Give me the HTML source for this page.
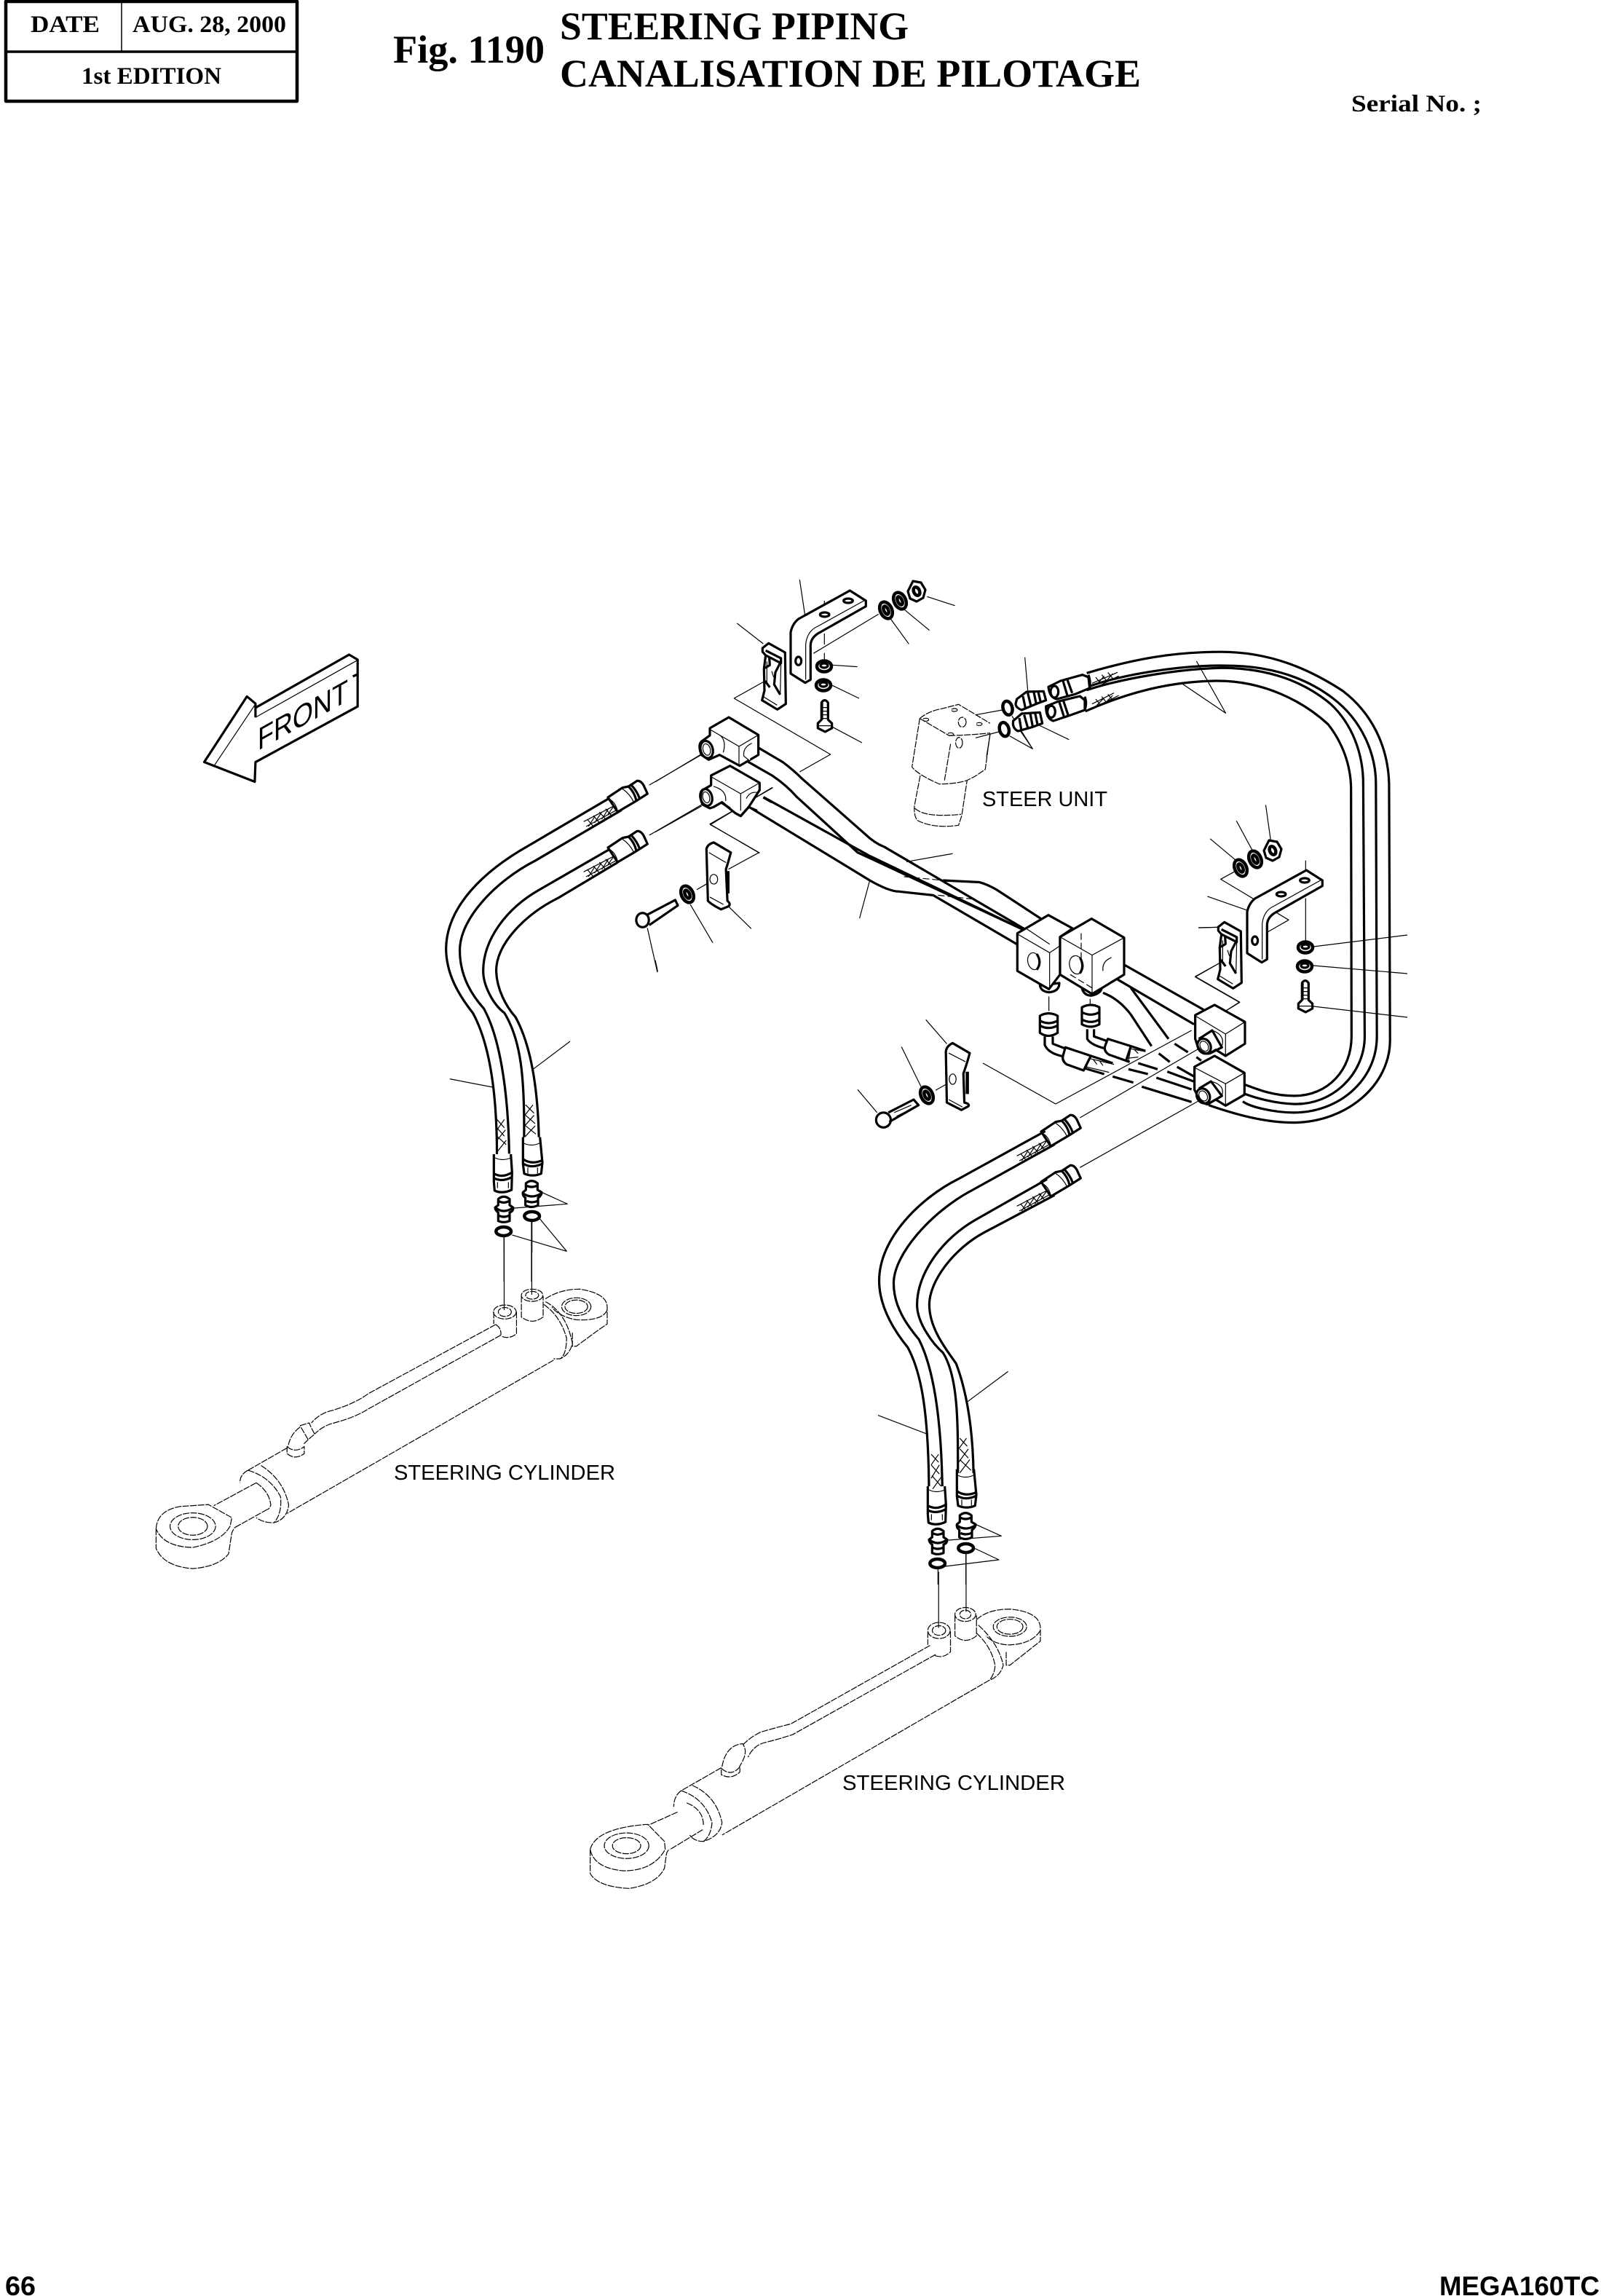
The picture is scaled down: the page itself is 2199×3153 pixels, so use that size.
<!DOCTYPE html>
<html><head><meta charset="utf-8"><title>Fig. 1190 Steering Piping</title>
<style>
html,body{margin:0;padding:0;background:#fff}
svg{display:block}
path,ellipse,line,rect,polygon{vector-effect:non-scaling-stroke;fill:none;stroke:#000;stroke-linejoin:round}
.k path,.k ellipse,path.k,ellipse.k{stroke-width:3.2}
.h path,.h ellipse,path.h,ellipse.h{stroke-width:4.5}
.t path,.t ellipse,path.t,ellipse.t{stroke-width:1.2}
.d path,.d ellipse{stroke-width:1.2;stroke-dasharray:9 1.5}
.w path,.w ellipse,path.w,ellipse.w{fill:#fff}
.s{font-family:"Liberation Serif",serif;font-weight:bold}
.a{font-family:"Liberation Sans",sans-serif}
</style></head><body>
<svg xmlns="http://www.w3.org/2000/svg" width="2199" height="3153" viewBox="0 0 2199 3153">
<defs>
 <!-- clip -->
 <g id="clip" transform="translate(960,780) scale(.3333)">
  <path class="k w" d="M262,330L287,310L355,348L358,560L323,583L260,545L270,505L268,415L275,360L262,345Z"/>
  <path class="k" d="M275,360L338,392L338,372L275,340M338,385L315,430L310,480L335,522M290,370L292,400L272,412M272,465L292,492"/>
  <path class="t" d="M338,392L335,520M265,530L322,565M280,385L280,480M300,425L308,450"/>
 </g>
 <!-- bracket -->
 <g id="brk" transform="translate(960,780) scale(.3333)">
  <path class="k w" d="M378,265Q385,230 410,210L622,93L688,135L688,158L490,270Q460,290 460,320L460,460L438,473L378,435Z"/>
  <path class="t" d="M440,460L440,315Q445,260 490,240L680,135"/>
  <ellipse class="k" cx="410" cy="383" rx="12" ry="17"/><ellipse class="k" cx="518" cy="192" rx="19" ry="9"/><ellipse class="k" cx="615" cy="135" rx="19" ry="9"/>
 </g>
 <!-- flat nut -->
 <g id="fn"><ellipse class="h" cx="0" cy="0" rx="10" ry="7.5"/><ellipse class="k" cx="0" cy="-1" rx="5" ry="3"/></g>
 <!-- washer -->
 <g id="wa"><ellipse class="h" cx="0" cy="0" rx="8" ry="12" transform="rotate(-25)"/><ellipse class="h" cx="0" cy="0" rx="3" ry="6" transform="rotate(-25)"/></g>
 <!-- hex nut -->
 <g id="hx"><path class="k" d="M-5,-14L6,-12L12,-2L9,9L0,14L-9,10L-12,0Z"/><ellipse class="h" cx="0" cy="0" rx="4" ry="6" transform="rotate(-25)"/></g>
 <!-- bolt -->
 <g id="bolt" transform="translate(960,780) scale(.3333)">
  <path class="k w" d="M505,555Q518,535 532,555L532,625L548,640L548,660L520,675L490,660L490,640L505,625Z"/>
  <path class="t" d="M507,575L530,575M507,590L530,590M507,605L530,605M507,620L530,620M492,650L546,650M510,555L510,625"/>
 </g>
 <!-- top hose end -->
 <g id="he" transform="translate(780,1040) scale(.3333)">
  <path class="k w" d="M165,165L225,125L250,120L285,97Q300,95 312,115L328,150L278,182L205,225Z"/>
  <path class="t" d="M165,170Q195,180 205,222M65,265L190,200M75,285L205,215M80,255L105,285M105,240L130,270M130,225L155,255M155,212L180,240M85,285L110,245M110,270L140,225M140,255L165,215M165,235L190,200"/>
  <path class="k" d="M250,120Q275,145 282,178M262,115Q285,140 295,168"/>
  <path class="t" d="M225,130Q255,150 272,185"/>
 </g>
 <!-- bottom fittings with rings and upper leaders -->
 <g id="bf" transform="translate(640,1560) scale(.3333)">
  <path class="k w" d="M115,75L115,190L118,225Q150,240 188,222L190,150L185,75"/>
  <path class="k" d="M115,155Q150,175 190,150M118,175Q150,190 188,170"/>
  <path class="t" d="M120,90Q150,105 185,90M130,215L130,190M175,215L175,190"/>
  <path class="k w" d="M235,5L235,115L240,155Q275,170 310,155L315,110L305,5"/>
  <path class="k" d="M235,95Q270,120 315,100M238,115Q270,135 313,115"/>
  <path class="t" d="M238,30Q270,45 303,30M255,155L255,130M295,155L295,130"/>
  <path class="k w" d="M133,260Q155,240 180,260L180,285L195,295Q195,310 180,315L180,350Q155,360 133,350L133,315Q120,305 120,295L133,285Z"/>
  <path class="k" d="M135,268Q155,280 178,268M125,298Q155,320 190,298M135,328Q155,338 178,328"/>
  <path class="k w" d="M247,195Q270,175 295,195L295,222L312,232Q312,245 297,255L297,285Q270,300 245,285L245,255Q232,245 235,232L247,222Z"/>
  <path class="k" d="M250,205Q270,215 292,205M238,238Q270,260 308,238M250,268Q270,278 295,268"/>
  <ellipse class="h" cx="155" cy="393" rx="31" ry="18"/>
  <ellipse class="h" cx="272" cy="330" rx="31" ry="18"/>
  <path class="t" d="M200,297L418,280L312,232M157,415L157,480M272,350L272,480"/>
 </g>
</defs>
<rect x="0" y="0" width="2199" height="3153" style="fill:#fff;stroke:none"/>

<!-- header table -->
<rect x="8" y="2" width="400" height="137" style="stroke-width:4.5"/>
<line x1="8" y1="71" x2="408" y2="71" style="stroke-width:3.5"/>
<line x1="167" y1="2" x2="167" y2="71" style="stroke-width:1.5"/>
<text class="s" x="42" y="44" font-size="33" textLength="95" lengthAdjust="spacingAndGlyphs">DATE</text>
<text class="s" x="182" y="44" font-size="33" textLength="211" lengthAdjust="spacingAndGlyphs">AUG. 28, 2000</text>
<text class="s" x="112" y="115" font-size="33" textLength="192" lengthAdjust="spacingAndGlyphs">1st EDITION</text>
<text class="s" x="540" y="86" font-size="54" textLength="208" lengthAdjust="spacingAndGlyphs">Fig. 1190</text>
<text class="s" x="769" y="54" font-size="54" textLength="479" lengthAdjust="spacingAndGlyphs">STEERING PIPING</text>
<text class="s" x="769" y="119" font-size="54" textLength="798" lengthAdjust="spacingAndGlyphs">CANALISATION DE PILOTAGE</text>
<text class="s" x="1856" y="153" font-size="33" textLength="179" lengthAdjust="spacingAndGlyphs">Serial No. ;</text>
<text class="a" x="7" y="3152" font-size="37" font-weight="bold" textLength="42" lengthAdjust="spacingAndGlyphs">66</text>
<text class="a" x="1977" y="3152" font-size="37" font-weight="bold" textLength="220" lengthAdjust="spacingAndGlyphs">MEGA160TC</text>

<text class="a" x="1349" y="1107" font-size="29" textLength="172" lengthAdjust="spacingAndGlyphs">STEER UNIT</text>
<text class="a" x="541" y="2032" font-size="29" textLength="304" lengthAdjust="spacingAndGlyphs">STEERING CYLINDER</text>
<text class="a" x="1157" y="2458" font-size="29" textLength="306" lengthAdjust="spacingAndGlyphs">STEERING CYLINDER</text>
<text class="a" transform="translate(354,1031) skewY(-29)" x="0" y="0" font-size="43" textLength="124" lengthAdjust="spacingAndGlyphs">FRONT</text>

<!-- group A: long lines (zoom 2 coordinates) -->
<g transform="translate(900,760) scale(.6697,.5102)">
 <g class="t">
  <path d="M150,850L213,805L113,730L240,630"/>
  <path d="M0,615L95,540M0,750L95,680"/>
  <path d="M150,950L197,1010M72,945L118,1048M0,1095L5,1125"/>
  <path d="M415,1443L455,1505M505,1328L545,1435M555,1255L598,1320"/>
  <path d="M515,830L610,808M440,880L419,982"/>
  <path d="M1110,290L1170,430L1080,350"/>
  <path d="M1138,768L1190,825M1192,720L1225,800M1252,677L1262,770"/>
 </g>
 <!-- large hose loop -->
 <g class="k">
  <path d="M885,322C980,285 1060,265 1160,265C1260,265 1340,310 1410,370C1470,430 1503,520 1505,620L1507,1310C1507,1430 1420,1530 1310,1532C1250,1532 1190,1510 1135,1485"/>
  <path d="M890,358C960,325 1080,300 1170,302C1270,302 1340,340 1390,390C1450,450 1478,540 1478,620L1480,1300C1480,1420 1400,1505 1310,1505C1270,1505 1220,1490 1205,1475"/>
  <path d="M885,368C960,335 1080,310 1165,308C1260,310 1330,345 1385,405C1430,460 1452,540 1452,620L1455,1300C1455,1400 1390,1485 1310,1482C1270,1480 1230,1465 1210,1455"/>
  <path d="M882,425C950,385 1040,345 1150,343C1250,342 1330,400 1380,460C1410,510 1426,570 1427,630L1428,1300C1428,1390 1380,1460 1310,1460C1270,1460 1240,1445 1210,1430"/>
 </g>
 <!-- pipes between left blocks and centre -->
 <g class="k">
  <path d="M195,510L262,562Q285,585 300,605L430,755Q450,780 470,790L760,1013"/>
  <path d="M180,553L240,598Q270,625 290,655L415,805L445,823L760,1016"/>
  <path d="M222,656L438,813L760,1016"/>
  <path d="M197,686L440,880Q480,910 500,910L570,920L742,1052"/>
  <path d="M590,880L665,885Q680,890 700,905L806,996"/>
 </g>
 <path class="t" d="M510,870L590,880M580,920L650,930" style="stroke-dasharray:9 4"/>

 <!-- lower-left clip -->
 <g class="k w">
  <path d="M105,795Q108,782 120,778L155,805Q150,830 145,850L148,935Q156,944 150,950L135,958Q115,945 108,935Z"/>
 </g>
 <path class="h" d="M149,855L149,915"/>
 <g class="t"><ellipse cx="120" cy="877" rx="8" ry="13"/><path d="M85,905L105,890M110,805L145,832M112,925L140,945"/></g>

 <!-- lower clip -->
 <g class="k w">
  <path d="M596,1340Q598,1325 610,1318L645,1345Q640,1370 632,1400L634,1478Q646,1482 642,1488L628,1498L598,1478Z"/>
 </g>
 <path class="h" d="M640,1395L640,1455"/>
 <ellipse class="t" cx="610" cy="1415" rx="7" ry="14"/>
 <path class="t" d="M575,1445L595,1430M602,1345L636,1368M602,1470L630,1490"/>
</g>
<use href="#wa" transform="translate(944,1228)"/>
<use href="#wa" transform="translate(1273,1504)"/>
<!-- bolt -->
<g transform="translate(900,760) scale(.6697,.5102)"><g class="k w">
 <ellipse cx="468" cy="1525" rx="15" ry="20"/></g>
 <path class="k" d="M478,1505L530,1470L540,1485L480,1530"/>
 <path class="t" d="M490,1505L525,1485M495,1515L530,1492"/>
</g>

<!-- top-right hose-end cluster -->
<g transform="translate(1340,880) scale(.3333)">
 <path class="t" d="M203,68L215,205M262,348L385,407M140,392L235,445L185,372M150,310L235,445M60,385L45,478M0,305L110,285M0,400L95,375"/>
 <ellipse class="h" cx="132" cy="277" rx="19" ry="29" transform="rotate(-15 132 277)"/>
 <ellipse class="h" cx="118" cy="365" rx="19" ry="29" transform="rotate(-15 118 365)"/>
 <g class="k w">
  <path d="M170,240L210,210L280,208L290,245L250,260L190,285Q165,275 165,260Z"/>
  <path d="M155,330L190,300L265,295L275,340L235,355L175,372Q150,360 155,330Z"/>
  <path d="M300,190L350,165L440,140L465,150L470,195L410,220L335,240Q305,235 300,190Z"/>
  <path d="M290,270L340,250L430,228L450,245L450,285L395,305L320,330Q290,320 290,270Z"/>
 </g>
 <g class="k">
  <path d="M195,228L205,275M215,215L228,268M240,212L250,260M258,210L268,252M180,318L188,365M200,305L215,358M225,298L235,352M245,296L255,345"/>
  <ellipse cx="325" cy="210" rx="16" ry="24"/><ellipse cx="312" cy="292" rx="16" ry="24"/>
  <path d="M360,165L378,225M378,160L398,215M345,252L365,315M362,248L382,308"/>
  <path d="M465,140Q475,165 470,195M450,230Q460,255 450,285"/>
 </g>
 <path class="t" d="M480,175L585,130M490,195L590,145M495,150L515,175M520,140L540,165M545,130L565,155M500,180L530,145M535,170L565,135M480,260L570,215M490,275L590,225M495,240L515,265M520,230L540,255M545,220L565,245M500,265L530,235M535,255L565,225"/>
</g>

<!-- top bracket cluster, reference crop coords -->
<g transform="translate(960,780) scale(.3333)">
 <path class="t" d="M415,48L437,195M157,228L265,312M517,135L517,180M517,270L517,315M517,350L517,385M472,352L740,190M940,118L1055,155M845,170L950,257M790,210L865,313M550,400L653,407M548,483L660,537M550,655L672,720"/>
 <path class="t" d="M300,450L145,537L542,768L415,840"/>
 <path class="t" d="M305,905L45,1055L250,1175"/>
 <!-- block 1 & 2 -->
 <path class="k w" d="M50,855L128,815L250,885L250,915L205,985L172,1022L150,1010L125,990L95,965L60,985L45,990L15,975Q0,940 15,915L50,895Z"/>
 <path class="t" d="M50,860L172,930L250,885M172,930L172,1000M195,950Q210,920 240,925M60,900Q115,915 110,960"/>
 <ellipse class="k" cx="30" cy="945" rx="24" ry="35" transform="rotate(-15 30 945)"/>
 <ellipse class="t" cx="30" cy="945" rx="14" ry="23" transform="rotate(-15 30 945)"/>
 <path class="k" d="M265,945L300,965M150,1010L172,1022L205,985L240,1000M90,965L128,990"/>
 <path class="k w" d="M45,660L123,615L245,688L245,770L168,815L85,770L40,790L10,770Q-5,730 10,715L45,690Z"/>
 <path class="t" d="M45,665L165,735L245,688M165,735L165,815M85,688Q115,710 100,760"/>
 <path class="t w" d="M218,722Q180,740 185,775L210,795"/>
 <ellipse class="k" cx="32" cy="748" rx="25" ry="36" transform="rotate(-15 32 748)"/>
 <ellipse class="t" cx="32" cy="748" rx="15" ry="24" transform="rotate(-15 32 748)"/>
 <!-- steer unit -->
 <g class="d">
  <path d="M910,620Q945,590 1000,580L1070,562L1200,640M910,620L1030,690M1030,690Q1100,690 1200,680"/>
  <path d="M910,620L878,820Q900,850 990,890Q1060,890 1105,875L1135,860L1180,830L1200,680"/>
  <path d="M1037,725L1012,875M912,855L888,980Q885,1020 900,1040Q970,1075 1070,1060L1083,1020L1105,875"/>
  <path d="M890,990Q930,1030 1080,1015"/>
  <ellipse cx="935" cy="625" rx="12" ry="6"/><ellipse cx="1053" cy="585" rx="12" ry="6"/><ellipse cx="1155" cy="643" rx="12" ry="6"/><ellipse cx="1037" cy="685" rx="12" ry="6"/>
  <ellipse cx="1085" cy="635" rx="16" ry="20"/><ellipse cx="1072" cy="720" rx="14" ry="22"/>
 </g>
</g>
<use href="#clip"/>
<use href="#brk"/>
<use href="#bolt"/>
<use href="#wa" transform="translate(1217,838)"/>
<use href="#wa" transform="translate(1236,825)"/>
<use href="#hx" transform="translate(1259,812)"/>
<use href="#fn" transform="translate(1132,915)"/>
<use href="#fn" transform="translate(1131,941)"/>

<!-- centre -->
<g transform="translate(1350,1240) scale(.3333)">
 <g class="t">
  <path d="M0,660L300,828L860,525M400,885L890,600M400,1090L890,815"/>
  <path d="M890,102L970,100M980,245L875,303L1058,408L1000,445"/>
  <path d="M272,385L272,445M442,395L442,415"/>
 </g>
 <g class="k">
  <path d="M640,660L720,685M600,685L680,705M535,715L620,740M655,757L860,820M715,720L860,768M760,695L868,735M800,675L870,715M725,620L770,655M880,635L900,650M790,580L845,615"/>
  <path d="M495,370Q560,395 610,460L695,590M610,350L765,560"/>
  <path d="M415,680L500,705M445,630L535,660M610,590L670,610M590,650L605,655"/>
  <path d="M255,550L255,585Q270,620 330,632M288,550L288,580L340,600M430,520L430,560Q445,585 505,600M458,520L458,550L515,570"/>
 </g>
 <g class="k w">
  <path d="M340,595L415,620L445,630L415,690L345,665Q325,650 330,630Z"/>
  <path d="M515,560L610,590L590,650L520,625Q495,610 505,585Z"/>
 </g>
 <path class="t" d="M435,640L540,665M425,675L520,698M440,635L425,680M455,645L470,665M480,650L495,670M605,600L670,612M595,640L640,635M610,595L600,650M625,605L640,620"/>
 <path class="k" d="M530,225L910,440M495,280L870,500"/>
 <g class="k w">
  <path d="M235,340Q240,365 272,368Q315,365 315,330Z"/>
  <path d="M408,350Q415,380 445,382Q485,375 490,350Z"/>
  <path d="M142,125L270,50L370,105L318,140L318,295L272,355L142,280Z"/>
  <path d="M318,140L448,65L582,143L582,295L450,375L318,295Z"/>
 </g>
 <g class="t">
  <path d="M142,128L275,205L320,175M275,205L275,350M178,105L275,170M270,50L370,105"/>
  <path d="M318,140L450,215L582,143M450,215L450,370"/>
  <path d="M405,125L405,240M360,295L450,350" style="stroke-dasharray:9 4"/>
  <ellipse cx="210" cy="240" rx="25" ry="35" transform="rotate(-12 210 240)"/>
  <ellipse cx="385" cy="255" rx="28" ry="38" transform="rotate(-12 385 255)"/>
  <path d="M530,225Q490,240 495,280"/>
 </g>
 <path class="k" d="M222,210Q245,245 222,275M400,225Q420,260 400,290"/>
 <!-- small fittings -->
 <g class="k w">
  <path d="M235,465Q270,445 308,465L308,535Q270,560 235,535Z"/>
  <path d="M408,430Q445,410 480,430L480,500Q445,520 408,500Z"/>
 </g>
 <g class="k">
  <path d="M235,485Q270,505 308,485M235,505Q270,525 308,505M408,450Q445,470 480,450M408,480Q445,500 480,480"/>
 </g>
 <!-- right blocks -->
 <g class="k w">
  <path d="M875,462L955,420L1080,490L1080,580L1000,630L960,605L935,620Q900,625 885,590L875,560Z"/>
  <path d="M872,675L955,630L1078,700L1078,790L1000,835L960,810L925,830Q890,820 880,785L872,770Z"/>
 </g>
 <g class="t">
  <path d="M875,465L1000,540L1080,490M1000,540L1000,625M945,525Q1000,545 985,590"/>
  <path d="M872,678L1000,745L1078,700M1000,745L1000,830M940,735Q1000,750 985,795"/>
  <ellipse cx="912" cy="590" rx="16" ry="22" transform="rotate(-30 912 590)"/>
  <ellipse cx="908" cy="795" rx="16" ry="22" transform="rotate(-30 908 795)"/>
 </g>
 <g class="k">
  <path d="M890,560L945,525L985,595L935,620M890,765L940,735L985,795L925,830"/>
  <ellipse cx="912" cy="590" rx="26" ry="32" transform="rotate(-30 912 590)"/>
  <ellipse cx="908" cy="795" rx="26" ry="32" transform="rotate(-30 908 795)"/>
 </g>
</g>

<!-- right bracket cluster -->
<path class="t" d="M1804,1300L1933,1284M1804,1326L1933,1337M1804,1382L1933,1397"/>
<g transform="translate(1640,1160) scale(.3333)">
 <path class="t" d="M460,65L460,135M460,220L460,400M55,213L218,270M18,342L100,340"/>
 <path class="t" d="M165,112L110,142L390,310L268,380"/>
 <path class="t" d="M110,485L5,545L188,650L130,685"/>
</g>
<use href="#clip" transform="translate(626,383)"/>
<use href="#brk" transform="translate(627,384)"/>
<use href="#wa" transform="translate(1704,1192)"/>
<use href="#wa" transform="translate(1724,1180)"/>
<use href="#hx" transform="translate(1748,1168)"/>
<use href="#fn" transform="translate(1793,1301)"/>
<use href="#fn" transform="translate(1792,1327)"/>
<use href="#bolt" transform="translate(660,385)"/>

<!-- group B: FRONT arrow and first hoses (zoom 3 coordinates) -->
<g transform="translate(180,860) scale(.5102,.574)">
 <path class="k" d="M197,325L312,168L335,185L335,195L587,68L610,80L610,192L335,325L333,372Z"/>
 <path class="k" d="M335,185L335,218M597,120L610,115"/>
 <path class="t" d="M225,332L332,190M335,218L608,82"/>
 <g class="t"><path d="M1395,380L1540,305M1395,500L1540,425M858,1083L975,1103M1182,993L1082,1060M1390,722L1417,828"/>
  <path d="M1004,1462L1004,1568M1078,1425L1078,1568"/>
 </g>
 <g class="k">
  <path d="M1290,410L1070,525C950,585 850,670 848,770C848,830 880,880 920,925C960,990 985,1100 985,1265"/>
  <path d="M1320,440L1090,560C980,610 885,700 885,775C885,840 920,885 950,915C990,980 1015,1100 1018,1262"/>
  <path d="M1295,530L1100,630C1010,675 948,750 948,825C948,860 975,905 1005,925C1050,990 1060,1080 1058,1230"/>
  <path d="M1310,565L1150,650C1060,690 983,760 983,825C985,870 1010,910 1035,935C1075,1000 1095,1100 1098,1225"/>
  <ellipse cx="1377" cy="703" rx="17" ry="17"/>
  <path d="M1390,690L1465,655L1472,668L1395,715"/>
 </g>
 <g class="t">
  <path d="M985,1180L1005,1200M985,1200L1005,1220M985,1220L1010,1240M1005,1180L985,1205M1008,1205L985,1230M1010,1230L985,1258"/>
  <path d="M1062,1145L1085,1165M1062,1170L1088,1190M1062,1195L1090,1215M1082,1145L1060,1170M1085,1170L1060,1195M1088,1195L1060,1222"/>
 </g>
</g>
<use href="#he"/>
<use href="#he" transform="translate(0,69)"/>
<use href="#he" transform="translate(595,459)"/>
<use href="#he" transform="translate(595,528)"/>
<use href="#bf"/>
<use href="#bf" transform="translate(596,456)"/>
<g transform="translate(640,1560) scale(.3333)"><path class="t" d="M190,408L415,475L305,342"/></g>
<path class="t" d="M1298,2151L1372,2142L1336,2125"/>

<!-- group C: first cylinder (zoom 4 coordinates) -->
<g transform="translate(180,1600) scale(.4464,.3827)">
 <g class="t">
  <path d="M1148,258L1148,520M1233,200L1233,465"/>
 </g>
 <g class="d">
  <ellipse cx="1150" cy="527" rx="35" ry="25"/><ellipse cx="1150" cy="527" rx="20" ry="16"/>
  <path d="M1116,527L1116,570M1186,527L1186,605Q1165,625 1140,615"/>
  <ellipse cx="1234" cy="467" rx="33" ry="22"/><ellipse cx="1234" cy="467" rx="20" ry="14"/>
  <path d="M1201,470L1201,545Q1234,575 1268,545L1268,470"/>
  <path d="M1275,480Q1320,445 1380,445Q1465,460 1465,510L1465,570L1440,590L1370,650L1358,650L1358,600"/>
  <ellipse cx="1370" cy="508" rx="45" ry="32"/><ellipse cx="1370" cy="508" rx="35" ry="24"/>
  <path d="M1465,520Q1450,560 1370,555Q1320,545 1295,510"/>
  <path d="M1270,500Q1320,540 1340,620Q1340,680 1320,695L1300,695M1275,490Q1340,530 1358,640Q1350,680 1320,695"/>
  <path d="M1122,572L730,820Q690,855 620,880Q580,890 555,925M1138,610L730,875Q690,905 625,925Q590,935 565,965"/>
  <path d="M1122,572Q1140,585 1138,610"/>
  <path d="M520,935L548,925Q555,945 565,965L545,985Q535,965 520,935M520,940Q490,965 483,1010M545,985L532,1000"/>
  <path d="M480,1010Q505,1035 533,1010L533,1035Q505,1060 480,1035Z"/>
  <path d="M480,1015L360,1095M1300,700L480,1250"/>
  <path d="M360,1095Q335,1110 335,1140M400,1078Q470,1130 485,1220Q480,1270 440,1283Q410,1285 385,1265M360,1095Q430,1120 460,1190Q465,1250 440,1283"/>
  <path d="M385,1140L255,1222M420,1235L320,1300M385,1140Q425,1170 430,1220Q425,1235 420,1235"/>
  <path d="M77,1305Q80,1240 150,1225L238,1218L310,1265L305,1295Q280,1350 190,1372Q100,1370 77,1305Z"/>
  <path d="M77,1305L77,1375Q100,1440 190,1448Q270,1440 300,1395L310,1320Q315,1305 320,1300"/>
  <ellipse cx="190" cy="1296" rx="70" ry="48"/><ellipse cx="190" cy="1296" rx="45" ry="32"/>
 </g>
</g>

<!-- group D: second hoses & cylinder (zoom 5 coordinates) -->
<g transform="translate(780,1480) scale(.5102,.7334)">
 <g class="t">
  <path d="M835,632L970,668M1185,550L1075,607"/>
  <path d="M998,925L998,1030M1072,890L1072,1000"/>
 </g>
 <g class="k">
  <path d="M1285,100L1050,190C950,225 838,300 838,380C838,430 880,475 915,505C950,550 970,620 972,765"/>
  <path d="M1310,125L1090,210C980,250 877,330 877,385C877,430 915,465 945,490C985,545 1005,640 1008,765"/>
  <path d="M1290,190L1100,265C1010,300 940,365 940,425C940,460 985,500 1010,515C1050,560 1050,640 1050,740"/>
  <path d="M1310,220L1120,290C1040,320 973,380 973,425C973,470 1020,510 1045,535C1075,590 1090,660 1092,740"/>
 </g>
 <g class="t">
  <path d="M978,705L998,720M978,725L1000,742M980,745L1005,765M998,705L978,725M1000,725L978,750M1005,748L982,770"/>
  <path d="M1055,675L1075,690M1055,695L1078,712M1055,715L1085,735M1073,675L1052,695M1078,695L1052,720M1082,715L1055,740"/>
 </g>
 <g class="d">
  <ellipse cx="999" cy="1035" rx="30" ry="15"/><ellipse cx="999" cy="1035" rx="18" ry="9"/>
  <path d="M969,1037L969,1062M1030,1037L1030,1075Q1010,1088 988,1082"/>
  <ellipse cx="1070" cy="1005" rx="28" ry="13"/><ellipse cx="1070" cy="1005" rx="15" ry="8"/>
  <path d="M1042,1007L1042,1045Q1070,1062 1100,1045L1100,1007"/>
  <path d="M1100,1015Q1130,995 1190,995Q1270,1000 1272,1030L1272,1055L1190,1100L1180,1100L1180,1075"/>
  <ellipse cx="1190" cy="1028" rx="45" ry="18"/><ellipse cx="1190" cy="1028" rx="35" ry="14"/>
  <path d="M1272,1035Q1250,1060 1190,1062Q1150,1062 1125,1045"/>
  <path d="M1105,1025Q1160,1060 1172,1100Q1165,1120 1135,1128M1100,1040Q1140,1065 1150,1100Q1150,1115 1135,1128"/>
  <path d="M975,1063L600,1210Q570,1215 520,1225Q490,1235 470,1250M990,1080L605,1230Q570,1238 530,1245Q500,1250 485,1272"/>
  <path d="M415,1290Q425,1250 470,1247Q485,1260 470,1280L462,1290M413,1293Q440,1310 463,1290L463,1300Q440,1315 413,1305Z"/>
  <path d="M413,1292L305,1335M1135,1128L415,1418"/>
  <path d="M305,1335Q285,1345 285,1365M335,1325Q400,1345 415,1395Q410,1420 365,1430Q340,1430 328,1418M305,1335Q370,1350 388,1395Q385,1420 365,1430"/>
  <path d="M295,1375L215,1400M363,1408L275,1445M320,1358Q365,1370 365,1400"/>
  <path d="M60,1445Q75,1405 215,1398L260,1430L262,1445Q230,1485 150,1485Q70,1480 60,1445"/>
  <path d="M60,1445L60,1490Q80,1515 165,1518Q240,1510 260,1480L265,1455Q268,1445 275,1445"/>
  <ellipse cx="158" cy="1438" rx="60" ry="24"/><ellipse cx="158" cy="1438" rx="38" ry="15"/>
 </g>
</g>
</svg>
</body></html>
